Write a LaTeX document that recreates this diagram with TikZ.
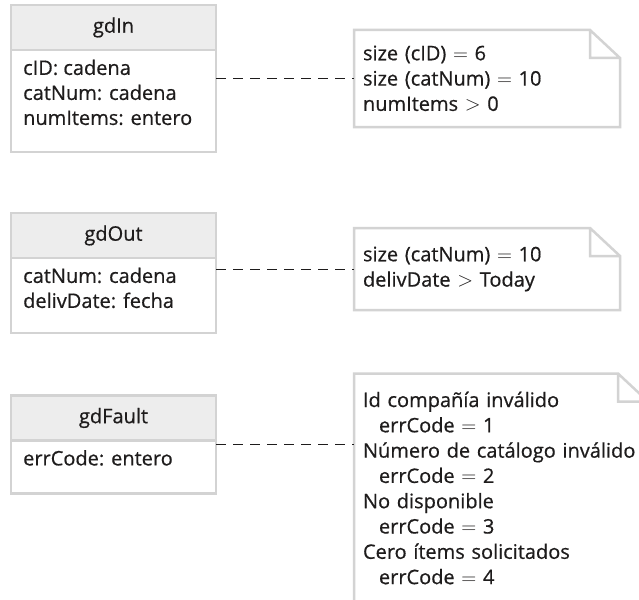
\documentclass[tikz,border=0pt]{standalone}
\usepackage{fontspec}
\setmainfont{Open Sans}[FakeBold=0.6]
\usetikzlibrary{positioning}
\definecolor{umlline}{RGB}{211,211,211}
\definecolor{umlfill}{RGB}{237,237,237}
\definecolor{umltext}{RGB}{30,28,28}

\begin{document}
\begin{tikzpicture}[x=1pt, y=-1pt,
    hdr/.style={draw=umlline, line width=2.5pt, fill=umlfill, minimum width=205pt, minimum height=45pt, inner sep=0pt, outer sep=0pt, font=\fontsize{20}{25}\selectfont, text=umltext},
    cls/.style={draw=umlline, line width=2.5pt, minimum width=205pt, inner sep=0pt, outer sep=0pt},
    attr/.style={align=left, anchor=north west, inner sep=0pt, font=\fontsize{20}{25}\selectfont, text=umltext},
    nte/.style={align=left, inner xsep=9pt, inner ysep=0pt, outer sep=0pt, font=\fontsize{20}{25.3}\selectfont, text=umltext},
    ntl/.style={draw=umlline, line width=2.5pt, line join=miter},
    dsh/.style={draw=umltext, line width=1pt, dash pattern=on 10pt off 7pt}
]
\useasboundingbox (0,0) rectangle (639,599);
\clip (0,0) rectangle (639,599);

\node[hdr] (inH) at (113.5,27.5) {gdIn};
\node[cls, minimum height=102pt, below=0pt of inH] (inB) {};
\node[attr] (inA) at ([xshift=12pt,yshift=-9.5pt]inB.north west) {cID: cadena\\catNum: cadena\\numItems: entero};

\node[hdr] (outH) at (113.5,235.5) {gdOut};
\node[cls, minimum height=75pt, below=0pt of outH] (outB) {};
\node[attr] (outA) at ([xshift=12pt,yshift=-9.5pt]outB.north west) {catNum: cadena\\delivDate: fecha};

\node[hdr] (fltH) at (113.5,418) {gdFault};
\node[cls, minimum height=53pt, below=0pt of fltH] (fltB) {};
\node[attr] (fltA) at ([xshift=12pt,yshift=-9.5pt]fltB.north west) {errCode: entero};

\node[nte, text width=248pt, minimum height=97pt] (inN) at (487,78.5)
    {size (cID) $=$ 6\\size (catNum) $=$ 10\\numItems $>$ 0};
\node[nte, text width=248pt, minimum height=82pt] (outN) at (487,269)
    {size (catNum) $=$ 10\\delivDate $>$ Today};
\node[nte, text width=276pt, minimum height=229pt] (fltN) at (501,488)
    {Id compañía inválido\\\hspace*{16pt}errCode $=$ 1\\Número de catálogo inválido\\\hspace*{16pt}errCode $=$ 2\\No disponible\\\hspace*{16pt}errCode $=$ 3\\Cero ítems solicitados\\\hspace*{16pt}errCode $=$ 4};

\foreach \n in {inN,outN,fltN}
  \draw[ntl] (\n.north west) -- ([xshift=-30pt]\n.north east) -- ([yshift=-28pt]\n.north east)
    -- (\n.south east) -- (\n.south west) -- cycle
    ([xshift=-30pt]\n.north east) |- ([yshift=-28pt]\n.north east);

\draw[dsh] (inN.west -| inB.east) -- (inN.west);
\draw[dsh] (outN.west -| outB.east) -- (outN.west);
\draw[dsh] ([yshift=44pt]fltN.west -| fltB.east) -- ([yshift=44pt]fltN.west);
\end{tikzpicture}
\end{document}
